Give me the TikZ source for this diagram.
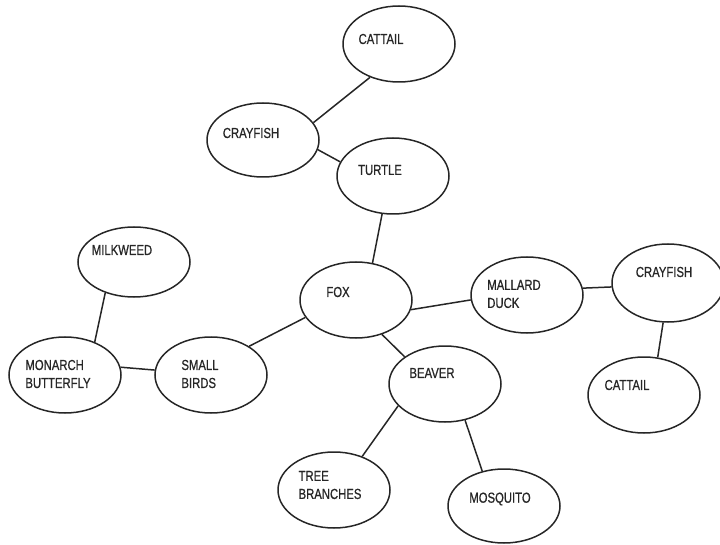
\documentclass[tikz,border=0pt]{standalone}
\usepackage{fontspec}
\setmainfont{Liberation Sans}[FakeStretch=0.78,FakeBold=0.8]
\usetikzlibrary{shapes.geometric}
\begin{document}
\begin{tikzpicture}[x=1pt,y=-1pt,
  eco/.style={ellipse,draw=black!85,line width=1.5pt,minimum width=112pt,minimum height=76pt,inner sep=0pt},
  lbl/.style={font=\fontsize{14.5}{18}\selectfont,text=black!85,align=left,inner sep=0pt},
  link/.style={draw=black!85,line width=1.5pt}]
\useasboundingbox (0,0) rectangle (720,545);
\node[eco,label={[lbl,xshift=-18pt,yshift=5pt]center:CATTAIL}] (cat1) at (399,44) {};
\node[eco,minimum height=74pt,label={[lbl,xshift=-12pt,yshift=7pt]center:CRAYFISH}] (cray1) at (263,140) {};
\node[eco,label={[lbl,xshift=-13pt,yshift=6pt]center:TURTLE}] (turtle) at (393,176) {};
\node[eco,minimum height=70pt,label={[lbl,xshift=-12pt,yshift=12pt]center:MILKWEED}] (milk) at (134,262) {};
\node[eco,label={[lbl,xshift=-7pt,yshift=1pt]center:MONARCH\\BUTTERFLY}] (mon) at (65,375) {};
\node[eco,label={[lbl,xshift=-11pt,yshift=1pt]center:SMALL\\BIRDS}] (birds) at (211,375) {};
\node[eco,label={[lbl,xshift=-18pt,yshift=8pt]center:FOX}] (fox) at (356,300) {};
\node[eco,label={[lbl,xshift=-13pt,yshift=1pt]center:MALLARD\\DUCK}] (duck) at (527,295) {};
\node[eco,minimum height=78pt,label={[lbl,xshift=-4pt,yshift=11pt]center:CRAYFISH}] (cray2) at (668,283) {};
\node[eco,label={[lbl,xshift=-17pt,yshift=10pt]center:CATTAIL}] (cat2) at (644,395) {};
\node[eco,label={[lbl,xshift=-13pt,yshift=11pt]center:BEAVER}] (beaver) at (445,384) {};
\node[eco,label={[lbl,xshift=-4pt,yshift=5pt]center:TREE\\BRANCHES}] (tree) at (334,490) {};
\node[eco,minimum height=74pt,label={[lbl,xshift=-4pt,yshift=7pt]center:MOSQUITO}] (mosq) at (504,506) {};
\draw[link] (cat1.229) -- (cray1.19);
\draw[link] (cray1.-10) -- (turtle.165);
\draw[link] (turtle.254) -- (fox.66);
\draw[link] (milk.227) -- (mon.48);
\draw[link] (mon.8) -- (birds.175);
\draw[link] (birds.37) -- (fox.199);
\draw[link] (fox.-10) -- (duck.185);
\draw[link] (duck.7) -- (cray2.184);
\draw[link] (cray2.263) -- (cat2.70);
\draw[link] (fox.307) -- (beaver.146);
\draw[link] (beaver.205) -- (tree.50);
\draw[link] (beaver.299) -- (mosq.122);
\end{tikzpicture}
\end{document}
